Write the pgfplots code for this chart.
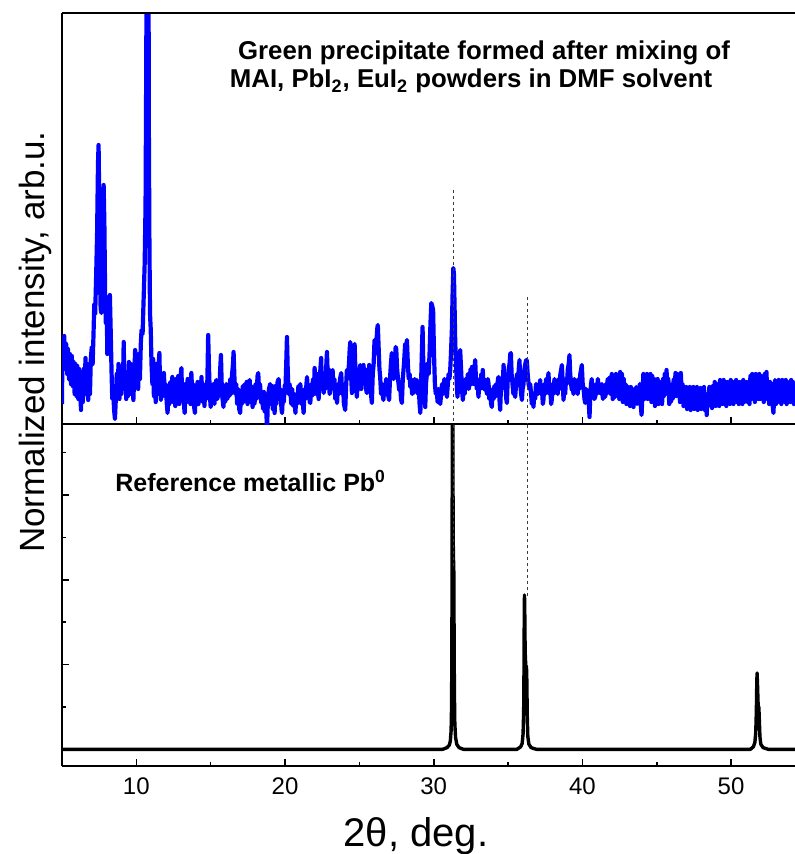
\documentclass[border=0pt]{standalone}
\usepackage{pgfplots}
\pgfplotsset{compat=1.18}
\usepackage{fontspec}
\setmainfont{Liberation Sans}
\definecolor{xblue}{RGB}{0,0,255}
\definecolor{dgray}{RGB}{60,60,60}
\begin{document}
\begin{tikzpicture}
\pgfplotsset{
  common/.style={
    scale only axis, width=366.5pt,
    xmin=5, xmax=54.3,
    axis lines=left, axis line style={-, line width=1pt, black},
    tick align=inside,
    xtick={10,20,30,40,50}, minor xtick={15,25,35,45},
    major tick length=3.5pt, minor tick length=2pt,
    every tick/.style={black, line width=0.8pt},
    /pgf/number format/assume math mode=true,
    ticklabel style={font=\fontsize{12}{14}\selectfont},
    xticklabel style={yshift=-2.5pt},
    clip=true,
  }
}
% ---------- top panel ----------
\begin{axis}[common, at={(31pt,-212pt)}, anchor=south west, height=205.5pt,
  ymin=0, ymax=411, ytick=\empty, xticklabels={}]
\addplot[xblue, line width=2.1pt, line join=round] coordinates {
(5.00,20) (5.03,85) (5.10,62) (5.15,88) (5.22,55) (5.28,80) (5.35,50) (5.40,75) (5.47,45) (5.53,70)
(5.60,40) (5.66,68) (5.72,38) (5.78,62) (5.85,30) (5.90,60) (5.97,28) (6.03,58) (6.10,25) (6.15,55)
(6.22,32) (6.28,14) (6.33,50) (6.40,22) (6.46,55) (6.52,30) (6.58,66) (6.64,35) (6.70,60) (6.76,24)
(6.82,45) (6.88,30) (6.94,65) (7.00,77) (7.06,60) (7.12,90) (7.17,120) (7.23,110) (7.30,150) (7.36,190)
(7.42,260) (7.46,279) (7.50,230) (7.55,150) (7.60,115) (7.65,111) (7.70,150) (7.75,190) (7.80,239) (7.85,200)
(7.90,130) (7.95,101) (8.00,125) (8.05,70) (8.10,95) (8.15,115) (8.22,129) (8.28,90) (8.33,54) (8.38,25)
(8.44,35) (8.50,15) (8.56,5) (8.62,25) (8.68,50) (8.74,30) (8.80,60) (8.86,25) (8.92,55) (8.98,30)
(9.04,58) (9.10,40) (9.15,82) (9.20,35) (9.26,50) (9.32,25) (9.38,48) (9.44,28) (9.50,62) (9.55,35)
(9.62,60) (9.68,30) (9.75,45) (9.80,24) (9.86,50) (9.92,74) (9.98,40) (10.05,65) (10.12,35) (10.18,70)
(10.24,45) (10.30,80) (10.35,94) (10.42,90) (10.50,130) (10.56,160) (10.62,220) (10.67,371) (10.71,600) (10.80,600)
(10.84,300) (10.88,180) (10.92,110) (10.97,94) (11.02,60) (11.08,40) (11.13,65) (11.18,28) (11.24,55) (11.30,22)
(11.36,60) (11.42,30) (11.48,55) (11.55,71) (11.60,35) (11.65,24) (11.72,45) (11.78,28) (11.85,51) (11.92,30)
(11.98,40) (12.05,20) (12.10,11) (12.16,35) (12.22,20) (12.28,42) (12.35,25) (12.42,47) (12.48,22) (12.55,40)
(12.62,18) (12.68,45) (12.75,25) (12.82,48) (12.88,20) (12.95,42) (13.03,56) (13.08,28) (13.15,35) (13.20,20)
(13.25,11) (13.32,40) (13.38,22) (13.45,45) (13.52,25) (13.58,42) (13.64,20) (13.70,51) (13.76,30) (13.82,40)
(13.88,18) (13.94,11) (14.00,35) (14.06,22) (14.12,42) (14.18,20) (14.25,40) (14.32,25) (14.38,47) (14.45,22)
(14.52,38) (14.58,18) (14.65,40) (14.72,25) (14.78,45) (14.83,89) (14.88,60) (14.94,30) (15.00,17) (15.06,38)
(15.12,22) (15.18,40) (15.25,20) (15.32,38) (15.38,44) (15.45,25) (15.52,40) (15.58,28) (15.64,55) (15.69,69)
(15.74,40) (15.80,25) (15.86,17) (15.92,35) (15.98,22) (16.05,40) (16.12,25) (16.20,40) (16.26,28) (16.32,45)
(16.38,30) (16.44,50) (16.50,60) (16.54,72) (16.60,45) (16.66,30) (16.72,40) (16.78,20) (16.85,35) (16.92,15)
(16.98,11) (17.04,30) (17.10,20) (17.16,38) (17.22,22) (17.30,40) (17.36,25) (17.42,42) (17.48,20) (17.55,40)
(17.62,44) (17.68,22) (17.75,38) (17.82,17) (17.88,35) (17.95,20) (18.02,40) (18.08,25) (18.15,48) (18.20,51)
(18.26,30) (18.32,40) (18.40,21) (18.46,30) (18.52,15) (18.58,32) (18.64,12) (18.72,20) (18.79,-5) (18.85,25)
(18.92,35) (19.00,40) (19.06,20) (19.12,38) (19.18,15) (19.24,35) (19.30,11) (19.36,38) (19.42,20) (19.50,42)
(19.57,45) (19.63,25) (19.70,35) (19.76,15) (19.80,11) (19.86,30) (19.92,22) (19.98,38) (20.04,40) (20.09,65)
(20.13,87) (20.18,55) (20.24,30) (20.30,40) (20.36,34) (20.42,20) (20.48,35) (20.55,18) (20.62,30) (20.70,11)
(20.76,30) (20.82,20) (20.90,38) (20.96,25) (21.03,40) (21.10,20) (21.16,30) (21.25,11) (21.32,35) (21.38,25)
(21.44,40) (21.48,47) (21.54,30) (21.60,35) (21.66,22) (21.70,21) (21.76,40) (21.82,28) (21.88,45) (21.94,30)
(21.99,56) (22.05,40) (22.10,30) (22.14,34) (22.20,50) (22.26,25) (22.32,45) (22.38,55) (22.43,66) (22.48,40)
(22.54,50) (22.60,31) (22.66,45) (22.72,35) (22.78,60) (22.82,72) (22.88,45) (22.94,55) (23.00,30) (23.05,34)
(23.12,45) (23.20,54) (23.26,35) (23.32,45) (23.38,25) (23.44,35) (23.50,21) (23.56,40) (23.62,30) (23.70,45)
(23.78,51) (23.84,30) (23.90,40) (23.96,20) (24.05,14) (24.10,35) (24.16,54) (24.22,45) (24.30,60) (24.35,75)
(24.39,82) (24.44,50) (24.50,31) (24.56,50) (24.63,70) (24.68,80) (24.74,50) (24.78,40) (24.83,27) (24.90,45)
(24.96,35) (25.02,55) (25.06,59) (25.12,35) (25.18,50) (25.24,40) (25.28,59) (25.34,45) (25.40,55) (25.45,35)
(25.50,31) (25.56,45) (25.62,40) (25.66,59) (25.72,40) (25.78,30) (25.84,21) (25.90,50) (25.96,60) (26.02,84)
(26.08,70) (26.14,80) (26.20,95) (26.24,99) (26.30,75) (26.35,55) (26.40,47) (26.46,30) (26.52,40) (26.58,28)
(26.62,24) (26.68,40) (26.74,30) (26.80,45) (26.85,40) (26.92,30) (27.00,24) (27.06,45) (27.12,60) (27.18,71)
(27.24,50) (27.30,45) (27.34,54) (27.40,65) (27.44,77) (27.48,75) (27.54,55) (27.60,45) (27.68,34) (27.74,40)
(27.80,25) (27.86,21) (27.92,45) (28.00,60) (28.08,80) (28.14,75) (28.20,84) (28.26,60) (28.32,45) (28.38,50)
(28.42,37) (28.48,45) (28.55,30) (28.60,40) (28.65,31) (28.72,45) (28.80,35) (28.87,44) (28.94,30) (29.00,35)
(29.05,20) (29.10,11) (29.15,40) (29.20,70) (29.25,97) (29.30,60) (29.36,35) (29.43,17) (29.48,40) (29.54,50)
(29.60,61) (29.66,50) (29.72,70) (29.78,100) (29.84,121) (29.90,118) (29.96,114) (30.02,70) (30.08,40) (30.14,30)
(30.20,35) (30.26,22) (30.32,35) (30.38,25) (30.44,20) (30.50,30) (30.56,40) (30.62,30) (30.66,37) (30.72,45)
(30.78,30) (30.84,35) (30.89,27) (30.95,40) (31.00,50) (31.06,45) (31.11,54) (31.16,70) (31.22,94) (31.27,130)
(31.32,156) (31.36,150) (31.40,120) (31.45,80) (31.50,61) (31.55,40) (31.60,27) (31.66,45) (31.72,60) (31.78,74)
(31.84,55) (31.90,35) (31.96,24) (32.02,40) (32.08,30) (32.14,45) (32.20,35) (32.23,40) (32.30,50) (32.36,35)
(32.42,45) (32.48,55) (32.54,40) (32.57,57) (32.62,45) (32.68,40) (32.74,55) (32.79,64) (32.84,45) (32.90,35)
(32.96,40) (33.01,27) (33.08,45) (33.14,35) (33.20,50) (33.26,40) (33.30,54) (33.36,35) (33.42,45) (33.46,34)
(33.52,40) (33.58,30) (33.64,45) (33.69,40) (33.74,25) (33.80,35) (33.86,20) (33.91,17) (33.97,35) (34.03,25)
(34.08,38) (34.13,27) (34.20,40) (34.26,30) (34.32,45) (34.36,47) (34.42,25) (34.47,14) (34.52,35) (34.58,45)
(34.64,40) (34.70,59) (34.76,35) (34.82,40) (34.88,25) (34.92,21) (34.98,45) (35.04,55) (35.10,60) (35.15,70)
(35.19,71) (35.24,50) (35.30,40) (35.36,30) (35.42,35) (35.48,27) (35.54,40) (35.60,50) (35.66,40) (35.72,55)
(35.77,64) (35.82,40) (35.88,30) (35.93,24) (35.98,35) (36.04,40) (36.10,55) (36.16,60) (36.22,64) (36.26,64)
(36.32,50) (36.38,40) (36.44,35) (36.49,40) (36.55,30) (36.60,20) (36.66,25) (36.71,17) (36.76,30) (36.82,25)
(36.88,40) (36.94,34) (37.00,30) (37.06,40) (37.12,35) (37.16,44) (37.22,30) (37.28,35) (37.34,20) (37.38,24)
(37.44,40) (37.50,30) (37.56,45) (37.62,35) (37.68,45) (37.72,51) (37.78,30) (37.84,35) (37.90,20) (37.94,24)
(38.00,40) (38.06,30) (38.12,45) (38.18,35) (38.24,40) (38.28,40) (38.34,30) (38.40,45) (38.46,35) (38.52,50)
(38.58,55) (38.62,59) (38.68,40) (38.73,24) (38.78,35) (38.84,30) (38.90,45) (38.96,40) (39.02,55) (39.08,60)
(39.13,69) (39.18,50) (39.24,40) (39.29,34) (39.34,40) (39.40,30) (39.46,45) (39.52,35) (39.57,40) (39.62,40)
(39.68,30) (39.74,45) (39.80,35) (39.86,50) (39.92,55) (39.96,59) (40.02,40) (40.08,35) (40.14,25) (40.19,21)
(40.25,35) (40.32,30) (40.38,25) (40.43,20) (40.48,7) (40.52,25) (40.58,40) (40.63,45) (40.68,30) (40.74,35)
(40.80,25) (40.86,27) (40.92,40) (40.98,30) (41.04,45) (41.10,35) (41.16,40) (41.19,39) (41.25,30) (41.32,40)
(41.38,25) (41.44,35) (41.50,30) (41.53,27) (41.58,40) (41.64,30) (41.70,45) (41.76,35) (41.82,45) (41.87,47)
(41.92,30) (41.98,50) (42.04,25) (42.10,45) (42.16,30) (42.20,27) (42.26,50) (42.32,30) (42.38,45) (42.43,47)
(42.48,25) (42.54,52) (42.60,30) (42.66,50) (42.72,22) (42.78,45) (42.84,28) (42.90,40) (42.96,20) (43.02,38)
(43.08,25) (43.14,35) (43.20,18) (43.26,37) (43.32,20) (43.38,35) (43.44,17) (43.50,35) (43.56,22) (43.62,37)
(43.68,20) (43.74,35) (43.80,25) (43.86,40) (43.92,20) (43.98,9) (44.04,30) (44.10,50) (44.16,25) (44.22,48)
(44.28,28) (44.34,50) (44.40,25) (44.46,45) (44.52,30) (44.58,50) (44.64,22) (44.70,48) (44.76,25) (44.82,45)
(44.88,18) (44.94,40) (45.00,25) (45.06,45) (45.12,20) (45.18,40) (45.24,25) (45.30,42) (45.36,20) (45.42,45)
(45.48,28) (45.54,50) (45.60,35) (45.66,54) (45.72,30) (45.78,45) (45.84,20) (45.90,38) (45.96,22) (46.02,40)
(46.08,25) (46.14,45) (46.20,30) (46.26,51) (46.32,28) (46.38,50) (46.44,30) (46.50,48) (46.56,22) (46.62,51)
(46.68,30) (46.74,40) (46.80,18) (46.86,35) (46.92,20) (46.98,37) (47.04,15) (47.10,35) (47.16,20) (47.22,37)
(47.28,14) (47.34,30) (47.40,20) (47.46,37) (47.52,15) (47.58,33) (47.64,20) (47.70,37) (47.76,14) (47.82,32)
(47.88,18) (47.94,36) (48.00,15) (48.06,34) (48.12,18) (48.18,37) (48.24,14) (48.30,30) (48.36,9) (48.42,30)
(48.48,18) (48.54,37) (48.60,20) (48.66,35) (48.72,16) (48.78,38) (48.84,20) (48.90,42) (48.96,18) (49.02,40)
(49.08,22) (49.14,38) (49.20,18) (49.26,44) (49.32,22) (49.38,42) (49.44,20) (49.50,44) (49.56,25) (49.62,38)
(49.68,18) (49.74,42) (49.80,22) (49.86,40) (49.92,20) (49.98,44) (50.04,25) (50.10,38) (50.16,20) (50.22,42)
(50.28,25) (50.34,44) (50.40,22) (50.46,40) (50.52,20) (50.58,42) (50.64,25) (50.70,38) (50.76,20) (50.82,44)
(50.88,22) (50.94,40) (51.00,25) (51.06,42) (51.12,22) (51.18,38) (51.24,20) (51.30,48) (51.36,25) (51.42,50)
(51.48,28) (51.54,45) (51.60,22) (51.66,50) (51.72,28) (51.78,46) (51.84,25) (51.90,50) (51.96,25) (52.02,48)
(52.08,28) (52.14,45) (52.20,22) (52.26,50) (52.32,30) (52.38,52) (52.44,25) (52.50,40) (52.56,20) (52.62,42)
(52.68,22) (52.74,40) (52.80,18) (52.85,11) (52.90,30) (52.96,44) (53.02,20) (53.08,40) (53.14,25) (53.20,44)
(53.26,22) (53.32,42) (53.38,20) (53.44,44) (53.50,25) (53.56,40) (53.62,22) (53.68,44) (53.74,20) (53.80,42)
(53.86,25) (53.92,40) (53.98,22) (54.04,44) (54.10,25) (54.16,42) (54.22,20) (54.28,40) (54.34,28)
};
\addplot[dgray, line width=0.7pt, dash pattern=on 1.5pt off 1.5pt] coordinates {(31.33,234) (31.33,0)};
\addplot[dgray, line width=0.7pt, dash pattern=on 1.5pt off 1.5pt] coordinates {(36.32,127) (36.32,0)};
\end{axis}
\draw[line width=1pt] (31pt,-6.5pt) -- (397.5pt,-6.5pt);
% ---------- bottom panel ----------
\begin{axis}[common, at={(31pt,-383pt)}, anchor=south west, height=171pt,
  ymin=-0.197, ymax=3.836, ytick={1,2,3}, minor ytick={0.5,1.5,2.5,3.5},
  yticklabels={}]
\addplot[black, line width=1.7pt, line join=round] coordinates {
(5,0) (30.6,0) (30.9,0.02) (31.05,0.05) (31.12,0.1) (31.17,0.22) (31.20,0.5) (31.22,1.1)
(31.24,2.5) (31.255,4.6) (31.285,4.6) (31.30,3.0) (31.32,2.3) (31.35,2.14) (31.37,1.4)
(31.39,0.7) (31.42,0.3) (31.47,0.14) (31.55,0.06) (31.7,0.02) (32.0,0) (35.6,0)
(35.85,0.03) (35.95,0.07) (36.01,0.18) (36.05,0.45) (36.075,1.0) (36.09,1.6) (36.105,1.82)
(36.12,1.7) (36.15,1.15) (36.19,0.99) (36.24,0.97) (36.265,0.8) (36.29,0.4) (36.33,0.15)
(36.4,0.06) (36.55,0.02) (36.9,0) (51.3,0) (51.5,0.03) (51.6,0.08) (51.66,0.2) (51.70,0.45)
(51.73,0.8) (51.75,0.9) (51.78,0.75) (51.82,0.52) (51.87,0.49) (51.90,0.35) (51.94,0.15)
(52.0,0.06) (52.15,0.02) (52.5,0) (54.3,0)
};
\addplot[dgray, line width=0.7pt, dash pattern=on 1.5pt off 1.5pt] coordinates {(31.33,3.9) (31.33,2.14)};
\addplot[dgray, line width=0.7pt, dash pattern=on 1.5pt off 1.5pt] coordinates {(36.32,3.9) (36.32,1.8)};
\end{axis}
% ---------- texts ----------
\node[anchor=base, inner sep=0pt, font=\fontsize{12.9}{15}\selectfont\bfseries] at (242pt,-30pt) {Green precipitate formed after mixing of};
\node[anchor=base, inner sep=0pt, font=\fontsize{12.9}{15}\selectfont\bfseries] at (235.5pt,-44pt) {MAI, PbI\textsubscript{2}, EuI\textsubscript{2} powders in DMF solvent};
\node[anchor=base west, inner sep=0pt, font=\fontsize{12.5}{15}\selectfont\bfseries] at (57.5pt,-245.5pt) {Reference metallic Pb\textsuperscript{0}};
\node[anchor=base, inner sep=0pt, font=\fontsize{20}{24}\selectfont] at (208pt,-423pt) {2θ, deg.};
\node[anchor=base, rotate=90, inner sep=0pt, font=\fontsize{17.5}{21}\selectfont] at (22pt,-171pt) {Normalized intensity, arb.u.};
\pgfresetboundingbox
\path[use as bounding box] (0pt,0pt) rectangle (397.5pt,-427pt);
\end{tikzpicture}
\end{document}
